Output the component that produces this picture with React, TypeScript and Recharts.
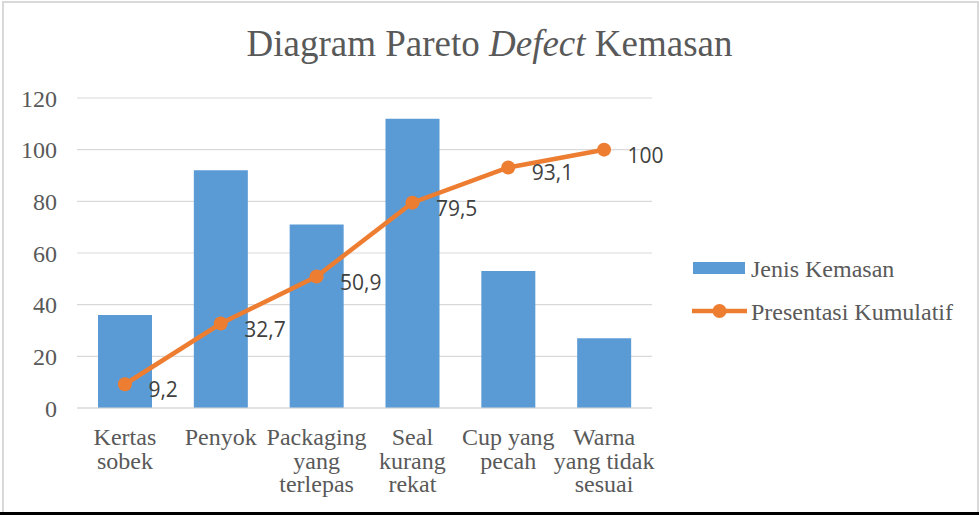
import { ComposedChart, Bar, Line, XAxis, YAxis, CartesianGrid, LabelList } from 'recharts';

const categories = [
  'Kertas sobek',
  'Penyok',
  'Packaging yang terlepas',
  'Seal kurang rekat',
  'Cup yang pecah',
  'Warna yang tidak sesuai',
];
const tickLines = [
  ['Kertas', 'sobek'],
  ['Penyok'],
  ['Packaging', 'yang', 'terlepas'],
  ['Seal', 'kurang', 'rekat'],
  ['Cup yang', 'pecah'],
  ['Warna', 'yang tidak', 'sesuai'],
];
const jenisKemasan = [36, 92, 71, 112, 53, 27];
const presentasiKumulatif = [9.2, 32.7, 50.9, 79.5, 93.1, 100];
const yTicks = [0, 20, 40, 60, 80, 100, 120];

const data = categories.map((name, i) => ({
  name,
  jenis: jenisKemasan[i],
  kumulatif: presentasiKumulatif[i],
}));

const SERIF = '"Liberation Serif", "Times New Roman", serif';
const BLUE = '#5B9BD5';
const ORANGE = '#ED7D31';
const TEXT = '#595959';

const XTick = (props: any) => {
  const { x, y, payload } = props;
  const lines = tickLines[payload.index] || [payload.value];
  return (
    <text x={x} y={y} textAnchor="middle" fill={TEXT} fontFamily={SERIF} fontSize={24}>
      {lines.map((l, i) => (
        <tspan key={i} x={x} y={y + 35 + i * 23.5}>
          {l}
        </tspan>
      ))}
    </text>
  );
};

const PointLabel = (props: any) => {
  const { x, y, value } = props;
  return (
    <text x={x + 23.5} y={y + 13} fill="#404040" fontFamily='"Open Sans", sans-serif' fontSize={21}>
      {String(value).replace('.', ',')}
    </text>
  );
};

export default function App() {
  return (
    <div style={{ position: 'absolute', left: 0, top: 0, width: 979, height: 515, background: '#fff' }}>
      {/* frame */}
      <div
        style={{
          position: 'absolute',
          left: 2,
          top: 1,
          width: 973,
          height: 509,
          border: '2px solid #D9D9D9',
        }}
      />
      <div style={{ position: 'absolute', left: 0, top: 512, width: 979, height: 3, background: '#000' }} />

      <div
        style={{
          position: 'absolute',
          left: 0,
          top: 24,
          width: 979,
          textAlign: 'center',
          fontFamily: SERIF,
          fontSize: 37,
          lineHeight: '40px',
          color: TEXT,
        }}
      >
        Diagram Pareto <i>Defect</i> Kemasan
      </div>

      <div style={{ position: 'absolute', left: 0, top: 0 }}>
        <ComposedChart
          width={979}
          height={515}
          data={data}
          margin={{ top: 98, right: 327, bottom: 0, left: 0 }}
        >
          <CartesianGrid vertical={false} stroke="#D9D9D9" strokeWidth={1.2} />
          <XAxis
            dataKey="name"
            height={107}
            tickLine={false}
            tickSize={0}
            axisLine={{ stroke: '#D9D9D9', strokeWidth: 1.2 }}
            tick={<XTick />}
            interval={0}
          />
          <YAxis
            width={77}
            domain={[0, 120]}
            ticks={yTicks}
            axisLine={false}
            tickLine={false}
            tickSize={0}
            tickMargin={20}
            tick={{ fill: TEXT, fontFamily: SERIF, fontSize: 24 }}
          />
          <Bar dataKey="jenis" fill={BLUE} barSize={54} isAnimationActive={false} />
          <Line
            dataKey="kumulatif"
            stroke={ORANGE}
            strokeWidth={4.5}
            dot={{ r: 7, fill: ORANGE, stroke: 'none' }}
            isAnimationActive={false}
          >
            <LabelList dataKey="kumulatif" content={<PointLabel />} />
          </Line>
        </ComposedChart>
      </div>

      <svg style={{ position: 'absolute', left: 0, top: 0 }} width={979} height={515} pointerEvents="none">
        <rect x={693} y={262} width={52} height={12} fill={BLUE} />
        <text x={751} y={277} fill={TEXT} fontFamily={SERIF} fontSize={24}>
          Jenis Kemasan
        </text>
        <line x1={692} x2={747} y1={311} y2={311} stroke={ORANGE} strokeWidth={4.5} />
        <circle cx={719.5} cy={311} r={7} fill={ORANGE} />
        <text x={751} y={320} fill={TEXT} fontFamily={SERIF} fontSize={24}>
          Presentasi Kumulatif
        </text>
      </svg>
    </div>
  );
}
